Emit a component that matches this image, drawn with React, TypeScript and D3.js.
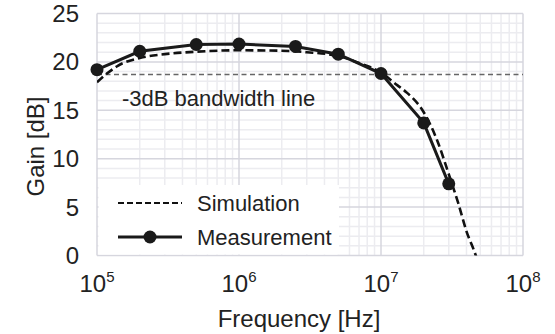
import React from "react";
import * as d3 from "d3";

const W = 555;
const H = 334;

const measFreq = [1e5, 2e5, 5e5, 1e6, 2.5e6, 5e6, 1e7, 2e7, 3e7];
const measGain = [19.2, 21.1, 21.8, 21.85, 21.6, 20.8, 18.8, 13.7, 7.4];

const simFreq = [1e5, 1.2e5, 1.4e5, 2e5, 3e5, 5e5, 1e6, 2e6, 3e6, 5e6, 7e6, 1e7, 1.3e7, 1.5e7, 2e7, 2.5e7, 3e7, 3.5e7, 4e7, 4.65e7, 5e7];
const simGain = [17.9, 18.9, 19.6, 20.4, 20.8, 21.05, 21.2, 21.15, 21.0, 20.6, 19.9, 18.9, 17.6, 16.9, 14.8, 11.8, 8.4, 5.4, 2.5, 0, -1.5];

const bandwidthGain = 18.7;
const yTicks = [0, 5, 10, 15, 20, 25];
const xDecades = [5, 6, 7, 8];

export default function App() {
  const left = 97, right = 523, top = 13.5, bottom = 255.5;
  const x = d3.scaleLog().domain([1e5, 1e8]).range([left, right]);
  const y = d3.scaleLinear().domain([0, 25]).range([bottom, top]);

  const minorX: number[] = [];
  for (let e = 5; e < 8; e++) for (let m = 2; m <= 9; m++) minorX.push(m * Math.pow(10, e));
  const minorY: number[] = [];
  for (let v = 1; v < 25; v++) if (v % 5 !== 0) minorY.push(v);

  const line = d3
    .line<[number, number]>()
    .x((d) => x(d[0]))
    .y((d) => y(d[1]));
  const simLine = d3
    .line<[number, number]>()
    .x((d) => x(d[0]))
    .y((d) => y(d[1]))
    .curve(d3.curveMonotoneX);

  const simData = simFreq.map((f, i) => [f, simGain[i]] as [number, number]);
  const measData = measFreq.map((f, i) => [f, measGain[i]] as [number, number]);

  const font = "'Liberation Sans', Arial, Helvetica, sans-serif";
  const minorColor = "#ececf0";
  const majorColor = "#d6d6de";

  return (
    <svg width={W} height={H} style={{ position: "absolute", left: 0, top: 0, background: "#fff" }} fontFamily={font}>
      <defs>
        <clipPath id="plot">
          <rect x={left} y={top} width={right - left} height={bottom - top} />
        </clipPath>
      </defs>
      {/* minor grid */}
      {minorX.map((f) => (
        <line key={"mx" + f} x1={x(f)} x2={x(f)} y1={top} y2={bottom} stroke={minorColor} strokeWidth={1.5} />
      ))}
      {minorY.map((v) => (
        <line key={"my" + v} x1={left} x2={right} y1={y(v)} y2={y(v)} stroke={minorColor} strokeWidth={1.5} />
      ))}
      {/* major grid */}
      {xDecades.map((e) => (
        <line key={"Mx" + e} x1={x(Math.pow(10, e))} x2={x(Math.pow(10, e))} y1={top} y2={bottom} stroke={majorColor} strokeWidth={1.5} />
      ))}
      {yTicks.map((v) => (
        <line key={"My" + v} x1={left} x2={right} y1={y(v)} y2={y(v)} stroke={majorColor} strokeWidth={1.5} />
      ))}

      {/* legend background */}
      <rect x={left + 1.5} y={185} width={339 - left - 1.5} height={bottom - 185 - 1} fill="#fff" />

      {/* -3dB line */}
      <line x1={left} x2={right} y1={y(bandwidthGain)} y2={y(bandwidthGain)} stroke="#666" strokeWidth={1.5} strokeDasharray="5 3.5" />
      <text x={122} y={106} fontSize={22} fill="#222">-3dB bandwidth line</text>

      <g clipPath="url(#plot)">
        <path d={simLine(simData) || ""} fill="none" stroke="#111" strokeWidth={2.6} strokeDasharray="8 4" />
      </g>
      <path d={line(measData) || ""} fill="none" stroke="#1a1a1a" strokeWidth={3} />
      {measData.map((d, i) => (
        <circle key={i} cx={x(d[0])} cy={y(d[1])} r={6.5} fill="#1a1a1a" />
      ))}

      {/* y tick labels */}
      {yTicks.map((v) => (
        <text key={"yl" + v} x={79} y={y(v) + 8.5} textAnchor="end" fontSize={24} fill="#222">
          {v}
        </text>
      ))}
      {/* x tick labels */}
      {xDecades.map((e) => (
        <text key={"xl" + e} x={x(Math.pow(10, e))} y={292} textAnchor="middle" fontSize={24} fill="#222">
          10
          <tspan dy={-10} fontSize={15}>
            {e}
          </tspan>
        </text>
      ))}

      {/* axis titles */}
      <text x={299} y={327} textAnchor="middle" fontSize={24} fill="#222">
        Frequency [Hz]
      </text>
      <text transform={`translate(44,146.5) rotate(-90)`} textAnchor="middle" fontSize={24} fill="#222">
        Gain [dB]
      </text>

      {/* legend */}
      <line x1={118} x2={182} y1={203} y2={203} stroke="#111" strokeWidth={2} strokeDasharray="6 3" />
      <text x={197} y={211} fontSize={22} fill="#222">Simulation</text>
      <line x1={118} x2={182} y1={237} y2={237} stroke="#1a1a1a" strokeWidth={3} />
      <circle cx={150} cy={237} r={6.5} fill="#1a1a1a" />
      <text x={197} y={245} fontSize={22} fill="#222">Measurement</text>
    </svg>
  );
}
